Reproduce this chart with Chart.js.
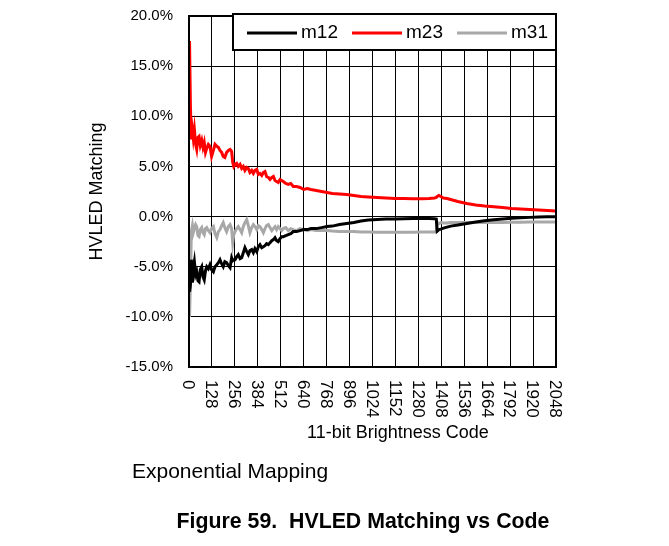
<!DOCTYPE html>
<html>
<head>
<meta charset="utf-8">
<script src="https://cdn.jsdelivr.net/npm/chart.js@4"></script>
<style>
  body { margin: 0; background: #fff; }
  #wrap { position: relative; width: 669px; height: 546px; }
  .caption {
    position: absolute;
    font-family: "Liberation Sans", Arial, sans-serif;
    line-height: 21px;
    color: #000;
    white-space: pre;
  }
</style>
</head>
<body>
<div id="wrap">
  <canvas id="chart" width="669" height="546"></canvas>
  <div class="caption" style="left:132px; top:460px; font-size:21px;">Exponential Mapping</div>
  <div class="caption" style="left:0; width:726px; top:511px; font-size:21.3px; font-weight:bold; text-align:center;">Figure 59.  HVLED Matching vs Code</div>
</div>
<script>
// brightness codes where the matching was sampled
const codes = [
  3, 8, 13, 19, 24, 30, 37, 43, 50, 56, 63, 71, 78, 85, 92, 99, 108, 117, 126, 136,
  145, 155, 164, 173, 182, 191, 200, 210, 220, 229, 238, 244, 250, 257, 266, 275, 285, 294, 303, 312,
  322, 331, 340, 350, 359, 368, 378, 387, 396, 406, 415, 424, 433, 443, 452, 462, 471, 480, 489, 498,
  508, 517, 526, 540, 554, 568, 582, 600, 620, 640, 660, 680, 710, 740, 770, 800, 840, 880, 920, 960,
  1000, 1050, 1100, 1150, 1200, 1250, 1300, 1340, 1370, 1380, 1385, 1395, 1405, 1420, 1440, 1460, 1500, 1550, 1600, 1650,
  1700, 1750, 1800, 1850, 1900, 1950, 2000, 2048
];

// matching in percent
const m12 = [
  -7.5, -6.8, -4.3, -6.6, -5.2, -4.5, -5.8, -5.5, -6.4, -6.5, -5.3, -5.0, -6.0, -6.3, -5.4, -5.0, -5.2, -4.8, -5.3, -5.5,
  -5.0, -4.8, -4.6, -4.3, -4.7, -5.0, -4.5, -4.6, -4.9, -5.1, -4.1, -4.4, -4.3, -4.3, -4.0, -3.8, -4.2, -4.1, -3.6, -3.1,
  -3.5, -3.8, -3.4, -3.3, -3.6, -3.2, -3.5, -3.0, -2.8, -3.1, -3.0, -2.9, -2.7, -2.8, -2.6, -2.4, -2.3, -2.1, -2.4, -2.5,
  -2.2, -2.0, -2.0, -1.9, -1.8, -1.7, -1.5, -1.5, -1.4, -1.3, -1.3, -1.2, -1.2, -1.1, -1.0, -0.95, -0.8, -0.7, -0.6, -0.45,
  -0.35, -0.3, -0.25, -0.23, -0.22, -0.2, -0.2, -0.2, -0.22, -0.25, -1.45, -1.3, -1.25, -1.15, -1.05, -0.95, -0.85, -0.7, -0.55, -0.42,
  -0.32, -0.25, -0.17, -0.12, -0.08, -0.05, -0.03, -0.02
];
const m23 = [
  17.5, 11.0, 7.7, 8.6, 7.8, 8.7, 7.2, 6.7, 7.9, 8.0, 7.1, 7.6, 6.9, 7.4, 6.4, 6.8, 7.2, 7.0, 6.0, 6.6,
  7.2, 7.0, 6.9, 6.6, 6.4, 6.0, 5.9, 6.4, 6.6, 6.7, 6.5, 5.4, 5.0, 5.2, 5.3, 5.0, 5.2, 4.8, 5.0, 4.6,
  4.9, 4.8, 4.4, 4.6, 4.3, 4.6, 4.7, 4.2, 4.3, 4.1, 4.4, 4.5, 4.0, 3.9, 3.7, 3.9, 4.0, 3.6, 3.5, 3.4,
  3.7, 3.6, 3.5, 3.3, 3.2, 3.3, 3.0, 3.0, 2.9, 2.7, 2.8, 2.7, 2.6, 2.5, 2.4, 2.3, 2.25, 2.2, 2.1, 2.0,
  1.95, 1.9, 1.85, 1.8, 1.8, 1.77, 1.77, 1.8, 1.85, 1.9, 2.0, 2.1, 2.0, 1.85, 1.8, 1.7, 1.5, 1.3, 1.15, 1.05,
  0.97, 0.9, 0.8, 0.75, 0.7, 0.65, 0.6, 0.55
];
const m31 = [
  -10.0, -6.5, -1.5, -0.9, -1.6, -1.2, -0.8, -1.0, -1.9, -2.0, -1.3, -1.1, -1.6, -1.8, -1.2, -1.1, -1.4, -1.6, -1.2, -1.0,
  -1.7, -2.1, -1.5, -1.3, -0.9, -0.6, -1.1, -1.5, -1.0, -0.8, -1.2, -2.6, -1.8, -1.5, -1.2, -1.0, -1.3, -1.6, -1.0, -0.6,
  -0.3, -0.9, -1.6, -1.1, -0.8, -1.0, -1.3, -0.9, -1.0, -1.3, -1.6, -1.2, -0.9, -0.8, -1.1, -1.4, -1.2, -1.0, -1.3, -1.0,
  -1.2, -1.4, -1.2, -1.1, -1.4, -1.2, -1.3, -1.4, -1.2, -1.3, -1.4, -1.3, -1.4, -1.4, -1.4, -1.45, -1.5, -1.5, -1.5, -1.55,
  -1.55, -1.57, -1.57, -1.57, -1.57, -1.57, -1.55, -1.53, -1.53, -1.5, -0.6, -0.7, -0.6, -0.65, -0.65, -0.6, -0.6, -0.6, -0.6, -0.6,
  -0.6, -0.58, -0.57, -0.56, -0.55, -0.55, -0.54, -0.53
];

const seriesNames = ["m12", "m23", "m31"];
const seriesColors = ["#000000", "#ff0000", "#a8a8a8"];

const FONT = '"Liberation Sans", Arial, sans-serif';

function toPoints(values) {
  return codes.map((c, i) => ({ x: c, y: values[i] }));
}

// frame, rotated code labels, axis titles and the boxed legend
const decorations = {
  id: "decorations",
  afterDatasetsDraw(chart) {
    const { ctx, chartArea: a, scales } = chart;
    const x = scales.x;
    ctx.save();

    ctx.strokeStyle = "#000";
    ctx.lineWidth = 2;
    ctx.strokeRect(a.left, a.top, a.right - a.left, a.bottom - a.top);

    // code labels read top to bottom
    ctx.fillStyle = "#000";
    ctx.font = "17px " + FONT;
    ctx.textAlign = "left";
    ctx.textBaseline = "middle";
    x.ticks.forEach((t) => {
      ctx.save();
      ctx.translate(x.getPixelForValue(t.value), a.bottom + 13);
      ctx.rotate(Math.PI / 2);
      ctx.fillText(String(t.value), 0, 1);
      ctx.restore();
    });

    ctx.textAlign = "center";
    ctx.font = "18px " + FONT;
    ctx.fillText("11-bit Brightness Code", 398, 433);

    ctx.save();
    ctx.translate(97, (a.top + a.bottom) / 2);
    ctx.rotate(-Math.PI / 2);
    ctx.font = "18px " + FONT;
    ctx.fillText("HVLED Matching", 0, 0);
    ctx.restore();

    // legend box
    ctx.fillStyle = "#fff";
    ctx.fillRect(233, 14, 323, 36);
    ctx.lineWidth = 2;
    ctx.strokeRect(233, 14, 323, 36);
    const starts = [247, 352, 457];
    ctx.font = "19px " + FONT;
    ctx.textAlign = "left";
    chart.data.datasets.forEach((ds, i) => {
      ctx.strokeStyle = ds.borderColor;
      ctx.lineWidth = 3;
      ctx.beginPath();
      ctx.moveTo(starts[i], 33);
      ctx.lineTo(starts[i] + 50, 33);
      ctx.stroke();
      ctx.fillStyle = "#000";
      ctx.fillText(ds.label, starts[i] + 54, 33);
    });

    ctx.restore();
  },
};

new Chart(document.getElementById("chart"), {
  type: "line",
  data: {
    datasets: seriesNames.map((name, i) => ({
      label: name,
      data: toPoints([m12, m23, m31][i]),
      borderColor: seriesColors[i],
      backgroundColor: seriesColors[i],
      borderWidth: 3,
      pointRadius: 0,
      tension: 0,
      fill: false,
    })),
  },
  options: {
    responsive: false,
    animation: false,
    devicePixelRatio: 1,
    layout: { padding: { left: 80, right: 113, top: 16, bottom: 169 } },
    plugins: {
      legend: { display: false },
      tooltip: { enabled: false },
    },
    scales: {
      x: {
        type: "linear",
        min: 0,
        max: 2048,
        ticks: { stepSize: 128, display: false },
        grid: { color: "#000", lineWidth: 1, drawTicks: false },
        border: { display: false },
        afterFit: (scale) => { scale.height = 10; },
      },
      y: {
        min: -15,
        max: 20,
        ticks: {
          stepSize: 5,
          padding: 16,
          color: "#000",
          font: { family: FONT, size: 15 },
          callback: (v) => v.toFixed(1) + "%",
        },
        grid: { color: "#000", lineWidth: 1, drawTicks: false },
        border: { display: true, color: "#000", width: 2 },
        afterFit: (scale) => {
          scale.width = 109;
          scale.paddingTop = 0;
          scale.paddingBottom = 0;
        },
      },
    },
  },
  plugins: [decorations],
});
</script>
</body>
</html>
